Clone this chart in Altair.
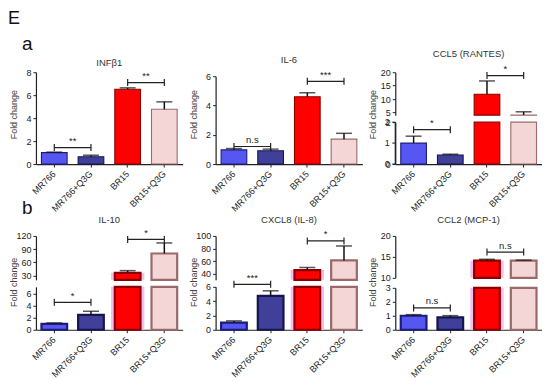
import altair as alt
import pandas as pd

FONT = "Liberation Sans"

groups = ["MR766", "MR766+Q3G", "BR15", "BR15+Q3G"]

# values (fold change) and upward error bars
inf_vals = [1.0, 0.64, 6.52, 4.77]
inf_errs = [0.04, 0.13, 0.12, 0.65]
il6_vals = [0.97, 0.91, 4.6, 1.7]
il6_errs = [0.09, 0.11, 0.27, 0.4]
ccl5_vals = [1.0, 0.43, 11.8, 4.05]
ccl5_errs = [0.33, 0.04, 4.95, 1.2]
il10_vals = [1.0, 2.48, 36.0, 80.0]
il10_errs = [0.14, 0.62, 5.0, 24.0]
cxcl8_vals = [1.0, 4.74, 45.5, 61.0]
cxcl8_errs = [0.24, 0.7, 4.2, 23.0]
ccl2_vals = [1.0, 0.88, 14.1, 14.1]
ccl2_errs = [0.08, 0.13, 0.32, 0.12]

# significance brackets: from, to, height, label, axis segment
inf_brackets = [("MR766", "MR766+Q3G", 1.44, "**", "lo"), ("BR15", "BR15+Q3G", 7.1, "**", "lo")]
il6_brackets = [("MR766", "MR766+Q3G", 1.2, "n.s", "lo"), ("BR15", "BR15+Q3G", 5.65, "***", "lo")]
ccl5_brackets = [("MR766", "MR766+Q3G", 1.64, "*", "lo"), ("BR15", "BR15+Q3G", 18.75, "*", "hi")]
il10_brackets = [("MR766", "MR766+Q3G", 4.6, "*", "lo"), ("BR15", "BR15+Q3G", 112, "*", "hi")]
cxcl8_brackets = [("MR766", "MR766+Q3G", 6.35, "***", "lo"), ("BR15", "BR15+Q3G", 92, "*", "hi")]
ccl2_brackets = [("MR766", "MR766+Q3G", 1.56, "n.s", "lo"), ("BR15", "BR15+Q3G", 16.15, "n.s", "hi")]

FILLS = ["#5656f2", "#40409a", "#ff0000", "#f5d6d6"]
STROKES_A = ["#1c1c7a", "#151550", "#8a0000", "#9a6a6a"]
STROKES_B = ["#1c1c7a", "#151550", "#7a3c12", "#9a6a6a"]
HI_FILLS_B = ["#5656f2", "#40409a", "#b5300d", "#f5d6d6"]

W = 147
STEP = W / 4

panels_cfg = [
    dict(title="INFβ1", vals=inf_vals, errs=inf_errs, brackets=inf_brackets, H=92, toff=6,
         lo=dict(domain=[0, 8], range=[92, 0], ticks=[0, 2, 4, 6, 8]), titleY=42,
         strokes=STROKES_A, label=[("E", -28, -48, 18), ("a", -14, -22, 19)]),
    dict(title="IL-6", vals=il6_vals, errs=il6_errs, brackets=il6_brackets, H=92, toff=9,
         lo=dict(domain=[0, 6], range=[92, 4], ticks=[0, 2, 4, 6]), titleY=42, strokes=STROKES_A),
    dict(title="CCL5 (RANTES)", vals=ccl5_vals, errs=ccl5_errs, brackets=ccl5_brackets, H=92, toff=15,
         lo=dict(domain=[0, 2], range=[92, 50], ticks=[0, 1, 2], manual=True),
         hi=dict(domain=[4, 20], range=[43, 0], ticks=[5, 10, 15, 20]), titleY=42,
         strokes=STROKES_A, halo_color="transparent"),
    dict(title="IL-10", vals=il10_vals, errs=il10_errs, brackets=il10_brackets, H=94, toff=13,
         lo=dict(domain=[0, 7.2], range=[94, 51], ticks=[0, 2, 4, 6]),
         hi=dict(domain=[20, 120], range=[44, 0], ticks=[30, 60, 90, 120]), titleY=46,
         strokes=STROKES_B, halo_color="#f6bdec", hi_fills=HI_FILLS_B, label=[("b", -14, -22, 19)]),
    dict(title="CXCL8 (IL-8)", vals=cxcl8_vals, errs=cxcl8_errs, brackets=cxcl8_brackets, H=94, toff=13,
         lo=dict(domain=[0, 6], range=[94, 51], ticks=[0, 2, 4, 6]),
         hi=dict(domain=[30, 100], range=[44, 0], ticks=[40, 60, 80, 100]), titleY=46,
         strokes=STROKES_B, halo_color="#f6bdec", hi_fills=HI_FILLS_B),
    dict(title="CCL2 (MCP-1)", vals=ccl2_vals, errs=ccl2_errs, brackets=ccl2_brackets, H=94, toff=13,
         lo=dict(domain=[0, 3], range=[94, 52], ticks=[0, 1, 2, 3]),
         hi=dict(domain=[10, 20], range=[42, 0], ticks=[10, 15, 20]), titleY=46,
         strokes=STROKES_B, halo_color="#f6bdec", hi_fills=FILLS),
]

XAXIS = alt.Axis(labelAngle=-45, labelAlign="right", labelBaseline="middle", labelFontSize=9,
                 labelPadding=5, tickSize=3, title=None,
                 domainWidth=1.2, labelColor="#222", domainColor="#222", tickColor="#222")


def build(cfg):
    df = pd.DataFrame({"group": groups, "value": cfg["vals"], "err": cfg["errs"]})
    df["top"] = df["value"] + df["err"]
    br = pd.DataFrame(cfg["brackets"], columns=["a", "b", "y", "label", "seg"])
    xscale = alt.Scale(domain=groups, paddingInner=0.3, paddingOuter=0.15)

    def X(field, **kw):
        return alt.X(f"{field}:N", sort=groups, scale=xscale, axis=XAXIS, title=None, **kw)

    stroke_sc = alt.Scale(domain=groups, range=cfg["strokes"])
    has_hi = "hi" in cfg
    cut = cfg["hi"]["domain"][0] if has_hi else 1e9
    segs = [("lo", cfg["lo"])] + ([("hi", cfg["hi"])] if has_hi else [])
    thick = 2.2 if cfg.get("halo_color", "transparent") != "transparent" else 1.1
    seg_layers = []
    for name, s in segs:
        d0, d1 = s["domain"]
        ysc = alt.Scale(domain=[d0, d1], range=s["range"], nice=False, zero=False)
        is_top = (name == "hi") or not has_hi
        yaxis = alt.Axis(values=s["ticks"], format="d", orient="left", tickSize=3,
                         labelOverlap=False, labelFlush=False,
                         labelPadding=2, labelFontSize=9, domainWidth=1.2, labelColor="#222",
                         domainColor="#222", tickColor="#222",
                         title="Fold change" if is_top else None,
                         titleFontSize=9, titleFontWeight="normal", titleColor="#444",
                         titleX=-22.5, titleY=cfg["titleY"], titleAngle=-90,
                         titleBaseline="middle", titleAlign="center")

        def Y(field):
            return alt.Y(f"{field}:Q", scale=ysc, axis=yaxis, title=None)

        fills = cfg.get("hi_fills", FILLS) if name == "hi" else FILLS
        fill_sc = alt.Scale(domain=groups, range=fills)
        base = alt.Chart(df)
        if name == "lo":
            bdata = base.transform_calculate(ytop=f"min(datum.value, {d1})", ybase=f"{d0}")
            edata = base.transform_filter(f"datum.value < {cut}")
        else:
            bdata = base.transform_filter(f"datum.value > {d0}").transform_calculate(
                ytop="datum.value", ybase=f"{d0}")
            edata = base.transform_filter(f"datum.value >= {cut}")
        layers = []
        if "halo_color" in cfg:
            layers.append(
                bdata.transform_filter("datum.group == 'BR15'")
                .mark_bar(width={"band": 1.3}, color=cfg["halo_color"], strokeWidth=0)
                .encode(x=X("group"), y=Y("ytop"), y2="ybase:Q"))
        bars = bdata.mark_bar(strokeWidth=thick).encode(
            x=X("group"), y=Y("ytop"), y2="ybase:Q",
            fill=alt.Fill("group:N", scale=fill_sc, legend=None),
            stroke=alt.Stroke("group:N", scale=stroke_sc, legend=None))
        layers.append(bars)
        layers.append(edata.mark_rule(strokeWidth=1.5, color="#111").encode(
            x=X("group"), y=Y("value"), y2="top:Q"))
        layers.append(edata.mark_tick(size=16, thickness=1.5, color="#111").encode(
            x=X("group"), y=Y("top")))
        bsub = br[br["seg"] == name]
        if len(bsub):
            bc = alt.Chart(bsub)
            layers.append(bc.mark_rule(strokeWidth=1.2, color="#222").encode(
                x=X("a", bandPosition=0.5), x2=alt.X2("b:N", bandPosition=0.5), y=Y("y")))
            for end in ["a", "b"]:
                layers.append(bc.mark_rule(strokeWidth=1.2, color="#222", yOffset=-3.5,
                                           y2Offset=3.5).encode(
                    x=X(end), y=Y("y"), y2="y:Q"))
            layers.append(bc.mark_text(dx=STEP / 2, dy=-1.5, baseline="bottom", fontSize=9.5,
                                       color="#222").encode(
                x=X("a"), y=Y("y"), text="label:N"))
        if s.get("manual"):
            # explicit tick labels, ticks and axis line for this segment
            tk = alt.Chart(pd.DataFrame({"t": s["ticks"]}))
            layers.append(tk.mark_text(align="right", baseline="middle", dx=-5.5, fontSize=9,
                                       color="#222").encode(
                x=alt.value(0), y=Y("t"), text=alt.Text("t:Q", format="d")))
            layers.append(tk.mark_rule(strokeWidth=1, color="#222").encode(
                x=alt.value(-3), x2=alt.value(0), y=Y("t")))
            dl = alt.Chart(pd.DataFrame({"a": [d0], "b": [d1]}))
            layers.append(dl.mark_rule(strokeWidth=1.2, color="#222").encode(
                x=alt.value(0), y=Y("a"), y2="b:Q"))
        seg_layers.append(alt.layer(*layers))
    extra = []
    labels = [(cfg["title"], W / 2, -cfg["toff"], 9.5, "center")] + \
        [(t, lx, ly, fs, "left") for (t, lx, ly, fs) in cfg.get("label", [])]
    for (t, lx, ly, fs, al) in labels:
        extra.append(alt.Chart(pd.DataFrame({"t": [t]})).mark_text(
            fontSize=fs, align=al, baseline="alphabetic",
            color="#333" if al == "center" else "#111").encode(
            x=alt.value(lx), y=alt.value(ly), text="t:N"))
    chart = alt.layer(*seg_layers, *extra).resolve_scale(y="independent").properties(
        width=W, height=cfg["H"])
    return chart


panels = [build(c) for c in panels_cfg]

chart = alt.concat(*panels, columns=3, spacing={"row": 72, "column": 33},
                   bounds="flush").properties(
    padding={"top": 2, "left": 0, "right": 0, "bottom": 0}).configure(
    font=FONT).configure_view(stroke=None).configure_axis(grid=False)

chart.save("out.html", embed_options={"renderer": "svg", "actions": False})
